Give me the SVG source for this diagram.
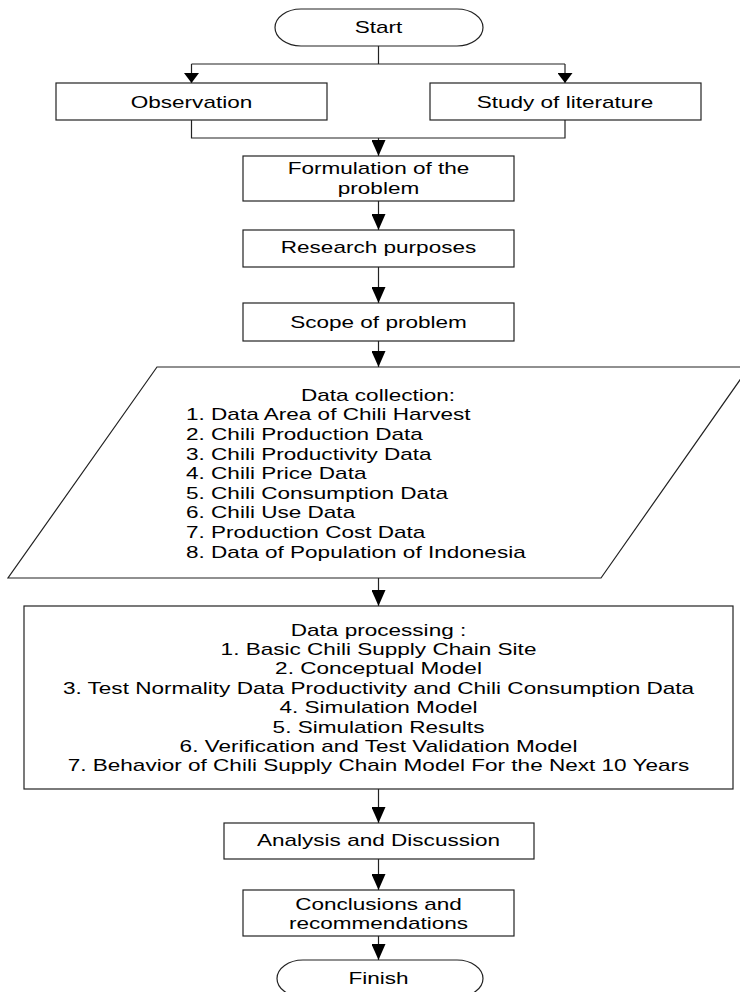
<svg xmlns="http://www.w3.org/2000/svg" width="740" height="992" viewBox="0 0 740 992">
<style>
.s{fill:#fff;stroke:#222;stroke-width:1.2}
.c{fill:none;stroke:#222;stroke-width:1.2}
text{font-family:"Liberation Sans",Arial,Helvetica,sans-serif;font-size:16px;fill:#000}
.m{text-anchor:middle}
</style>
<defs>
<marker id="a" viewBox="0 -7 16 14" refX="16" refY="0" markerWidth="16" markerHeight="14" markerUnits="userSpaceOnUse" orient="auto"><path d="M0,-7L16,0L0,7z" fill="#000"/></marker>
<marker id="b" viewBox="0 -7.5 10 15" refX="10" refY="0" markerWidth="10" markerHeight="15" markerUnits="userSpaceOnUse" orient="auto"><path d="M0,-7.5L10,0L0,7.5z" fill="#000"/></marker>
</defs>
<g id="connectors">
<path class="c" d="M378.5,46V64M191.5,64H565"/>
<path class="c" d="M191.5,64V83" marker-end="url(#b)"/>
<path class="c" d="M565,64V83" marker-end="url(#b)"/>
<path class="c" d="M191.5,120V138H565V120"/>
<path class="c" d="M378.5,138V156" marker-end="url(#a)"/>
<path class="c" d="M378.5,201V230" marker-end="url(#a)"/>
<path class="c" d="M378.5,267V303" marker-end="url(#a)"/>
<path class="c" d="M378.5,341V367" marker-end="url(#a)"/>
<path class="c" d="M378.5,578V606" marker-end="url(#a)"/>
<path class="c" d="M378.5,789V823" marker-end="url(#a)"/>
<path class="c" d="M378.5,859V890" marker-end="url(#a)"/>
<path class="c" d="M378.5,936V960" marker-end="url(#a)"/>
</g>
<g id="start">
<rect class="s" x="275" y="9" width="208" height="37" rx="26" ry="18.5"/>
<text class="m" transform="translate(378.5,32.7) scale(1.41,1)">Start</text>
</g>
<g id="observation">
<rect class="s" x="56" y="83" width="271" height="37"/>
<text class="m" transform="translate(191.5,108) scale(1.41,1)">Observation</text>
</g>
<g id="study">
<rect class="s" x="430" y="83" width="271" height="37"/>
<text class="m" transform="translate(565,108) scale(1.41,1)">Study of literature</text>
</g>
<g id="formulation">
<rect class="s" x="243" y="156" width="271" height="45"/>
<g transform="translate(378.5,0) scale(1.41,1)">
<text class="m" x="0" y="174.5">Formulation of the</text>
<text class="m" x="0" y="194">problem</text>
</g>
</g>
<g id="research">
<rect class="s" x="243" y="230" width="271" height="37"/>
<text class="m" transform="translate(378.5,253.3) scale(1.41,1)">Research purposes</text>
</g>
<g id="scope">
<rect class="s" x="243" y="303" width="271" height="38"/>
<text class="m" transform="translate(378.5,327.5) scale(1.41,1)">Scope of problem</text>
</g>
<g id="collection">
<polygon class="s" points="157,367 749,367 601,578 8,578"/>
<text class="m" transform="translate(378,400.9) scale(1.41,1)">Data collection:</text>
<g transform="translate(186,0) scale(1.41,1)">
<text x="0" y="420.5">1. Data Area of Chili Harvest</text>
<text x="0" y="440.1">2. Chili Production Data</text>
<text x="0" y="459.7">3. Chili Productivity Data</text>
<text x="0" y="479.3">4. Chili Price Data</text>
<text x="0" y="498.9">5. Chili Consumption Data</text>
<text x="0" y="518.5">6. Chili Use Data</text>
<text x="0" y="538.1">7. Production Cost Data</text>
<text x="0" y="557.7">8. Data of Population of Indonesia</text>
</g>
</g>
<g id="processing">
<rect class="s" x="24" y="606" width="709" height="183"/>
<g transform="translate(378.5,0) scale(1.41,1)">
<text class="m" x="0" y="635.7">Data processing :</text>
<text class="m" x="0" y="655.1">1. Basic Chili Supply Chain Site</text>
<text class="m" x="0" y="674.5">2. Conceptual Model</text>
<text class="m" x="0" y="693.9">3. Test Normality Data Productivity and Chili Consumption Data</text>
<text class="m" x="0" y="713.3">4. Simulation Model</text>
<text class="m" x="0" y="732.7">5. Simulation Results</text>
<text class="m" x="0" y="752.1">6. Verification and Test Validation Model</text>
<text class="m" x="0" y="771.5">7. Behavior of Chili Supply Chain Model For the Next 10 Years</text>
</g>
</g>
<g id="analysis">
<rect class="s" x="224" y="823" width="310" height="36"/>
<text class="m" transform="translate(378.5,845.7) scale(1.41,1)">Analysis and Discussion</text>
</g>
<g id="conclusions">
<rect class="s" x="243" y="890" width="271" height="46"/>
<g transform="translate(378.5,0) scale(1.41,1)">
<text class="m" x="0" y="910.5">Conclusions and</text>
<text class="m" x="0" y="929">recommendations</text>
</g>
</g>
<g id="finish">
<rect class="s" x="277" y="960" width="206" height="37" rx="26" ry="18.5"/>
<text class="m" transform="translate(378.5,984) scale(1.41,1)">Finish</text>
</g>
</svg>
